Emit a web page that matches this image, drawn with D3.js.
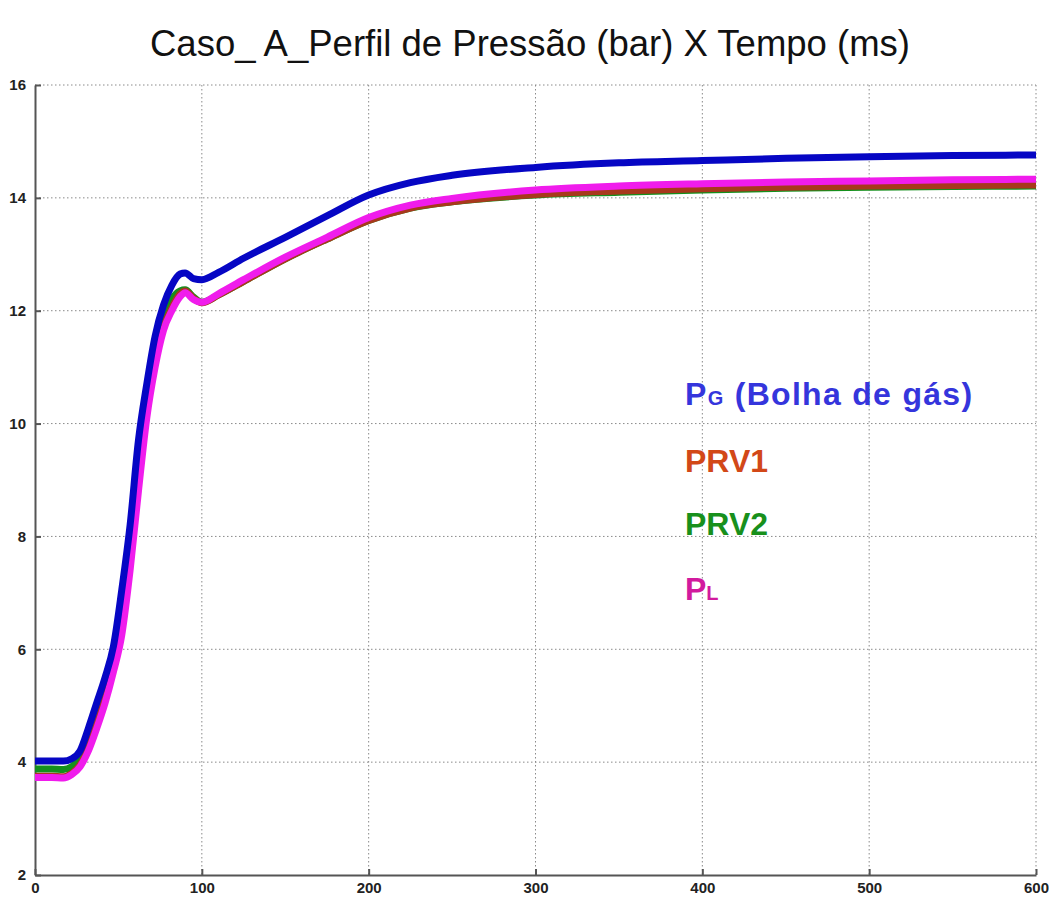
<!DOCTYPE html>
<html>
<head>
<meta charset="utf-8">
<script src="https://cdn.jsdelivr.net/npm/d3@7"></script>
<style>
  html, body { margin: 0; padding: 0; background: #fff; }
  svg { display: block; }
</style>
</head>
<body>
<svg id="chart" width="1049" height="897"></svg>
<script>
// Time samples (ms)
const time = [0,10,17,22,27,32,37,42,47,52,57,62,67,72,77,82,87,90,95,100,110,125,150,175,200,225,250,300,350,400,450,500,550,600];

// Pressure series (bar)
const pG   = [4.02,4.02,4.02,4.06,4.2,4.6,5.05,5.5,6.05,7.05,8.2,9.7,10.7,11.55,12.1,12.45,12.65,12.67,12.57,12.55,12.68,12.93,13.3,13.68,14.05,14.27,14.4,14.54,14.62,14.66,14.7,14.73,14.75,14.76];
const pRV1 = [3.75,3.75,3.74,3.8,3.95,4.25,4.7,5.15,5.75,6.45,7.65,9.0,10.25,11.1,11.7,12.05,12.3,12.35,12.22,12.14,12.28,12.52,12.92,13.27,13.6,13.82,13.93,14.06,14.12,14.16,14.19,14.21,14.22,14.23];
const pRV2 = [3.88,3.88,3.87,3.92,4.06,4.38,4.82,5.25,5.9,6.7,7.9,9.3,10.4,11.25,11.85,12.2,12.35,12.37,12.24,12.15,12.28,12.52,12.92,13.27,13.6,13.82,13.93,14.05,14.1,14.14,14.17,14.19,14.2,14.21];
const pL   = [3.73,3.73,3.72,3.78,3.92,4.2,4.6,5.05,5.6,6.25,7.4,8.8,10.1,11.0,11.65,12.0,12.25,12.32,12.2,12.15,12.3,12.55,12.95,13.3,13.65,13.87,13.99,14.14,14.21,14.25,14.28,14.3,14.32,14.33];

// Axis ticks
const xTicks = [0,100,200,300,400,500,600];
const yTicks = [2,4,6,8,10,12,14,16];

const titleText = "Caso_ A_Perfil de Pressão (bar) X Tempo (ms)";

// Series in drawing order (bottom first)
const series = [
  { key: "PRV2", values: pRV2, color: "#14901c" },
  { key: "PRV1", values: pRV1, color: "#a8381c" },
  { key: "PL",   values: pL,   color: "#f01cec" },
  { key: "PG",   values: pG,   color: "#0606c4" }
];

const svg = d3.select("#chart");
const plotLeft = 35, plotRight = 1036, plotTop = 85, plotBottom = 875;

const x = d3.scaleLinear().domain([0, 600]).range([plotLeft, plotRight]);
const y = d3.scaleLinear().domain([2, 16]).range([plotBottom, plotTop]);

// Title
svg.append("text")
  .attr("x", 530).attr("y", 56)
  .attr("text-anchor", "middle")
  .attr("font-family", "Liberation Sans, Arial, sans-serif")
  .attr("font-size", 36.5)
  .attr("fill", "#111")
  .text(titleText);

// Dotted grid
const grid = svg.append("g").attr("stroke", "#8a8a8a").attr("stroke-width", 1)
  .attr("stroke-dasharray", "1.5,2.5");
grid.selectAll("line.v").data(xTicks.filter(d => d > 0)).join("line")
  .attr("class", "v")
  .attr("x1", d => x(d)).attr("x2", d => x(d))
  .attr("y1", plotTop).attr("y2", plotBottom);
grid.selectAll("line.h").data(yTicks.filter(d => d > 2)).join("line")
  .attr("class", "h")
  .attr("x1", plotLeft).attr("x2", plotRight)
  .attr("y1", d => y(d)).attr("y2", d => y(d));

// Axes
const fontTicks = "Liberation Sans, Arial, sans-serif";
const xAxis = svg.append("g").attr("transform", `translate(0,${plotBottom})`)
  .call(d3.axisBottom(x).tickValues(xTicks).tickSizeInner(-6).tickSizeOuter(0).tickPadding(10).tickFormat(d3.format("d")));
const yAxis = svg.append("g").attr("transform", `translate(${plotLeft},0)`)
  .call(d3.axisLeft(y).tickValues(yTicks).tickSizeInner(-6).tickSizeOuter(0).tickPadding(9).tickFormat(d3.format("d")));
[xAxis, yAxis].forEach(g => {
  g.select(".domain").attr("stroke", "#555").attr("stroke-width", 2);
  g.selectAll(".tick line").attr("stroke", "#555").attr("stroke-width", 2);
  g.selectAll(".tick text")
    .attr("font-family", fontTicks).attr("font-size", 15).attr("font-weight", "bold").attr("fill", "#222");
});
xAxis.selectAll(".tick text").attr("dy", "0.5em");

// Curves
const line = d3.line()
  .x((d, i) => x(time[i]))
  .y(d => y(d))
  .curve(d3.curveMonotoneX);

svg.append("g").selectAll("path").data(series).join("path")
  .attr("d", s => line(s.values))
  .attr("fill", "none")
  .attr("stroke", s => s.color)
  .attr("stroke-width", 7)
  .attr("stroke-linejoin", "round")
  .attr("stroke-linecap", "butt");

// Legend labels
const legend = [
  { main: "P", sub: "G", rest: " (Bolha de gás)", color: "#3535dc", yPos: 405, spacing: 1.3 },
  { main: "PRV1", sub: "", rest: "", color: "#d24818", yPos: 472, spacing: 0 },
  { main: "PRV2", sub: "", rest: "", color: "#18901c", yPos: 535, spacing: 0 },
  { main: "P", sub: "L", rest: "", color: "#d21a9e", yPos: 600, spacing: 0 }
];
const lg = svg.append("g")
  .attr("font-family", "Liberation Sans, Arial, sans-serif")
  .attr("font-weight", "bold");
legend.forEach(l => {
  const t = lg.append("text").attr("x", 685).attr("y", l.yPos).attr("fill", l.color)
    .attr("font-size", 32).attr("letter-spacing", l.spacing);
  t.append("tspan").text(l.main);
  if (l.sub) t.append("tspan").attr("font-size", 20).text(l.sub);
  if (l.rest) t.append("tspan").text(l.rest);
});
</script>
</body>
</html>
